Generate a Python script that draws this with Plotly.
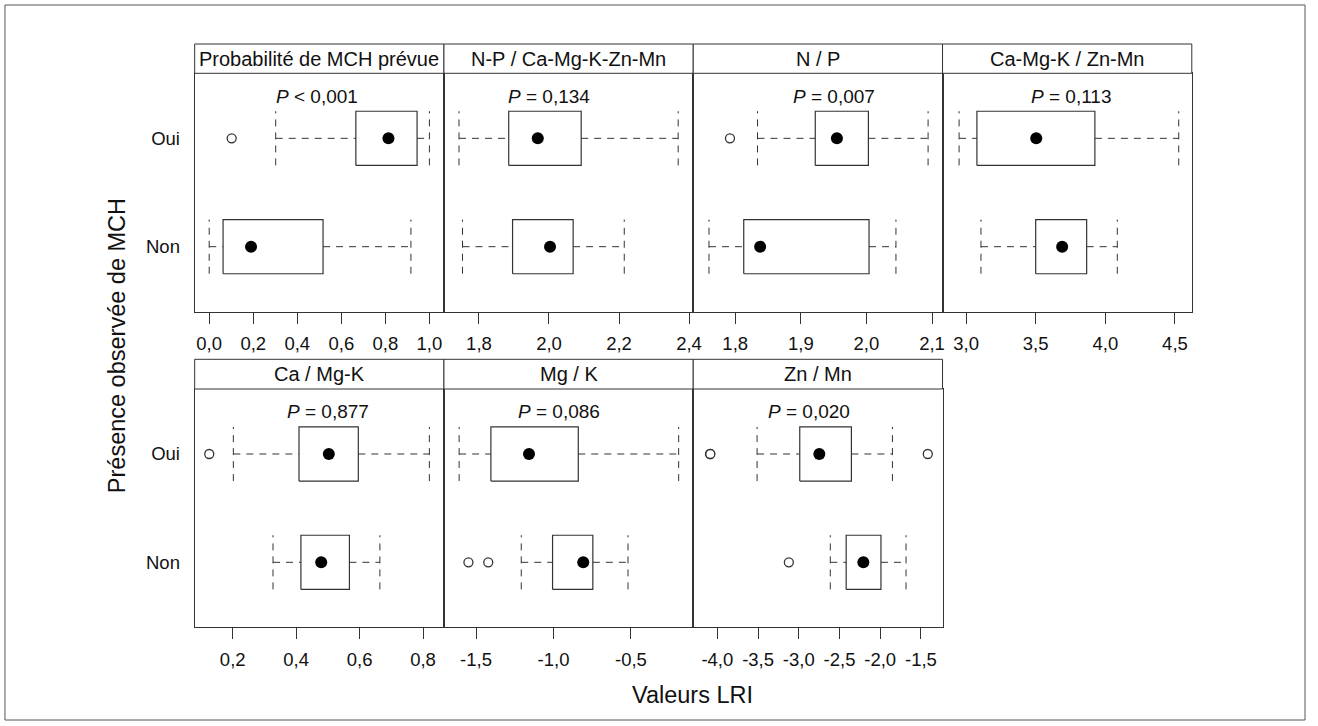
import plotly.graph_objects as go

# ---------------- data ----------------
panel_titles = ["Probabilité de MCH prévue", "N-P / Ca-Mg-K-Zn-Mn", "N / P",
                "Ca-Mg-K / Zn-Mn", "Ca / Mg-K", "Mg / K", "Zn / Mn"]
p_labels = ["<i>P</i> &lt; 0,001", "<i>P</i> = 0,134", "<i>P</i> = 0,007",
            "<i>P</i> = 0,113", "<i>P</i> = 0,877", "<i>P</i> = 0,086", "<i>P</i> = 0,020"]
p_label_x = [0.49, 2.0, 1.95, 3.75, 0.50, -0.967, -2.873]
p_label_y = 2.39

groups = ["Non", "Oui"]          # y positions 1, 2

# five-number summaries [lower whisker, Q1, median, Q3, upper whisker]
stats_oui = [
    [0.302, 0.666, 0.814, 0.944, 1.000],
    [1.743, 1.885, 1.968, 2.092, 2.369],
    [1.834, 1.922, 1.955, 2.003, 2.094],
    [2.950, 3.078, 3.504, 3.925, 4.527],
    [0.202, 0.409, 0.503, 0.596, 0.820],
    [-1.609, -1.404, -1.158, -0.840, -0.192],
    [-3.512, -2.988, -2.748, -2.354, -1.850],
]
stats_non = [
    [0.000, 0.063, 0.190, 0.517, 0.916],
    [1.753, 1.896, 2.003, 2.069, 2.215],
    [1.760, 1.813, 1.838, 2.004, 2.045],
    [3.107, 3.500, 3.690, 3.866, 4.086],
    [0.327, 0.415, 0.479, 0.568, 0.664],
    [-1.208, -1.006, -0.808, -0.746, -0.519],
    [-2.613, -2.418, -2.207, -1.991, -1.683],
]
outliers_oui = [[0.102], [], [1.792], [], [0.126], [], [-4.089, -4.086, -1.416]]
outliers_non = [[], [], [], [], [], [-1.549, -1.421], [-3.122]]

tick_vals = [
    [0.0, 0.2, 0.4, 0.6, 0.8, 1.0],
    [1.8, 2.0, 2.2, 2.4],
    [1.8, 1.9, 2.0, 2.1],
    [3.0, 3.5, 4.0, 4.5],
    [0.2, 0.4, 0.6, 0.8],
    [-1.5, -1.0, -0.5],
    [-4.0, -3.5, -3.0, -2.5, -2.0, -1.5],
]
tick_text = [
    ["0,0", "0,2", "0,4", "0,6", "0,8", "1,0"],
    ["1,8", "2,0", "2,2", "2,4"],
    ["1,8", "1,9", "2,0", "2,1"],
    ["3,0", "3,5", "4,0", "4,5"],
    ["0,2", "0,4", "0,6", "0,8"],
    ["-1,5", "-1,0", "-0,5"],
    ["-4,0", "-3,5", "-3,0", "-2,5", "-2,0", "-1,5"],
]
x_ranges = [
    [-0.066, 1.066], [1.700, 2.412], [1.736, 2.116], [2.831, 4.621],
    [0.080, 0.866], [-1.707, -0.098], [-4.296, -1.235],
]
x_title = "Valeurs LRI"
y_title = "Présence observée de MCH"

# ---------------- layout geometry (page pixels) ----------------
W, H = 1318, 726
col_edges = [196, 447, 698, 949, 1200]
rows_px = [  # strip top, panel top, panel bottom
    (44.0, 73.3, 311.7),
    (359.3, 389.0, 627.3),
]
BOX_HALF = 0.25
LINE = "#333333"
FONT = "Liberation Sans, Arial, sans-serif"
DASH = "7px,6px"

def px_x(p):
    return p / W

def px_y(p):
    return 1 - p / H

fig = go.Figure()
shapes = []
annotations = []

for i, title in enumerate(panel_titles):
    row = 0 if i < 4 else 1
    col = i if i < 4 else i - 4
    ax = "" if i == 0 else str(i + 1)
    xref, yref = "x" + ax, "y" + ax
    strip_top, ptop, pbot = rows_px[row]
    x0, x1 = col_edges[col], col_edges[col + 1]

    bx, by, wx, wy = [], [], [], []
    medx, medy, outx, outy = [], [], [], []
    for gpos, st, outs in ((1, stats_non[i], outliers_non[i]), (2, stats_oui[i], outliers_oui[i])):
        lo, q1, med, q3, hi = st
        bx += [q1, q3, q3, q1, q1, None]
        by += [gpos - BOX_HALF, gpos - BOX_HALF, gpos + BOX_HALF, gpos + BOX_HALF, gpos - BOX_HALF, None]
        wx += [lo, q1, None, q3, hi, None, lo, lo, None, hi, hi, None]
        wy += [gpos, gpos, None, gpos, gpos, None,
               gpos - BOX_HALF, gpos + BOX_HALF, None, gpos - BOX_HALF, gpos + BOX_HALF, None]
        medx.append(med); medy.append(gpos)
        outx += outs; outy += [gpos] * len(outs)

    fig.add_trace(go.Scatter(x=wx, y=wy, mode="lines", xaxis=xref, yaxis=yref,
                             line=dict(color=LINE, width=1, dash=DASH),
                             hoverinfo="skip", showlegend=False))
    fig.add_trace(go.Scatter(x=bx, y=by, mode="lines", xaxis=xref, yaxis=yref,
                             line=dict(color=LINE, width=1.2),
                             hoverinfo="skip", showlegend=False))
    fig.add_trace(go.Scatter(x=medx, y=medy, mode="markers", xaxis=xref, yaxis=yref,
                             marker=dict(color="black", size=12, symbol="circle"),
                             showlegend=False))
    if outx:
        fig.add_trace(go.Scatter(x=outx, y=outy, mode="markers", xaxis=xref, yaxis=yref,
                                 marker=dict(color="white", size=9, symbol="circle",
                                             line=dict(color=LINE, width=1.3)),
                                 showlegend=False))

    fig.update_layout(**{
        "xaxis" + ax: dict(
            domain=[px_x(x0), px_x(x1)], range=x_ranges[i], anchor=yref,
            tickmode="array", tickvals=tick_vals[i], ticktext=tick_text[i],
            ticks="outside", ticklen=11, tickwidth=1, tickcolor=LINE,
            showline=True, linecolor=LINE, linewidth=1, mirror=True,
            showgrid=False, zeroline=False, ticklabelstandoff=4,
            tickfont=dict(family=FONT, size=18.5, color="#111111"),
        ),
        "yaxis" + ax: dict(
            domain=[px_y(pbot), px_y(ptop)], range=[0.4, 2.6], anchor=xref,
            tickmode="array", tickvals=[1, 2],
            ticktext=groups if col == 0 else ["", ""],
            showticklabels=(col == 0), ticks="", ticklabelstandoff=10,
            showline=True, linecolor=LINE, linewidth=1, mirror=True,
            showgrid=False, zeroline=False,
            tickfont=dict(family=FONT, size=18.5, color="#111111"),
        ),
    })

    shapes.append(dict(type="rect", xref="paper", yref="paper",
                       x0=px_x(x0), x1=px_x(x1), y0=px_y(ptop), y1=px_y(strip_top),
                       line=dict(color=LINE, width=1), fillcolor="white", layer="above"))
    annotations.append(dict(text=title, xref="paper", yref="paper",
                            x=px_x((x0 + x1) / 2), y=px_y((strip_top + ptop) / 2),
                            xanchor="center", yanchor="middle", showarrow=False,
                            font=dict(family=FONT, size=20, color="#111111")))
    annotations.append(dict(text=p_labels[i], xref=xref, yref=yref,
                            x=p_label_x[i], y=p_label_y, xanchor="center", yanchor="middle",
                            showarrow=False, font=dict(family=FONT, size=19, color="#111111")))

annotations.append(dict(text=x_title, xref="paper", yref="paper",
                        x=px_x(697.5), y=px_y(695), xanchor="center", yanchor="middle",
                        showarrow=False, font=dict(family=FONT, size=23.5, color="#111111")))
annotations.append(dict(text=y_title, xref="paper", yref="paper", textangle=-90,
                        x=px_x(118), y=px_y(346), xanchor="center", yanchor="middle",
                        showarrow=False, font=dict(family=FONT, size=23.5, color="#111111")))

# outer frame
shapes.append(dict(type="rect", xref="paper", yref="paper",
                   x0=px_x(5), x1=px_x(1314), y0=px_y(720), y1=px_y(5),
                   line=dict(color="#555555", width=1)))

fig.update_layout(width=W, height=H, autosize=False,
                  margin=dict(l=0, r=0, t=0, b=0),
                  paper_bgcolor="white", plot_bgcolor="white",
                  shapes=shapes, annotations=annotations, showlegend=False)

# remove the default page margin so the figure sits at the window origin
fig.write_html("out.html",
               config={"displayModeBar": False},
               post_script="document.body.style.margin='0';"
                           "document.body.style.overflow='hidden';")
